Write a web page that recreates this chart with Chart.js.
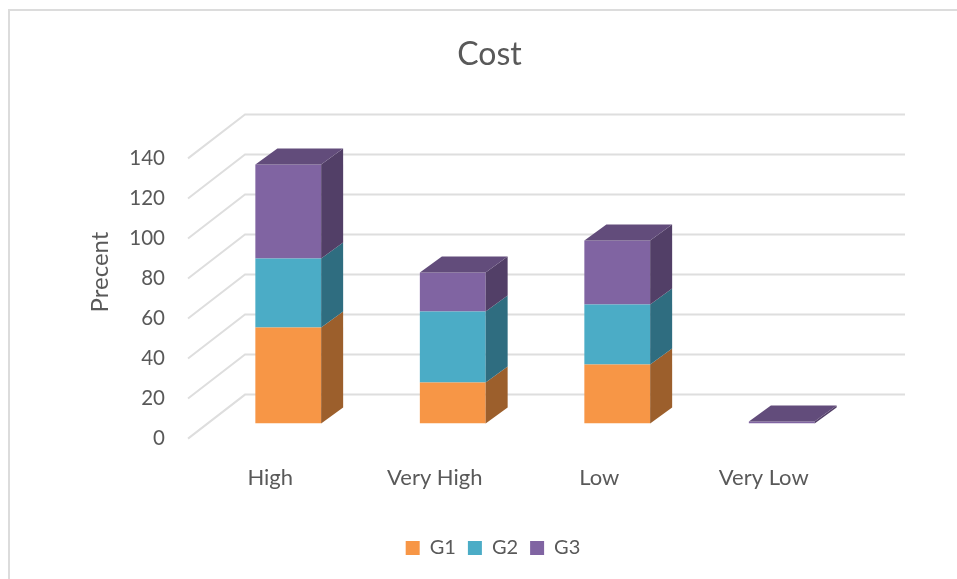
<!DOCTYPE html>
<html>
<head>
<meta charset="utf-8">
<title>Cost</title>
<script src="https://cdn.jsdelivr.net/npm/chart.js@4"></script>
<style>
  html, body { margin: 0; padding: 0; background: #fff; overflow: hidden; }
  #frame { position: absolute; left: 8px; top: 9px; width: 990px; height: 590px; border-left: 2px solid #dcdcdc; border-top: 2px solid #dcdcdc; }
  #wrap { position: absolute; left: 0; top: 0; width: 986px; height: 579px; }
</style>
</head>
<body>
<div id="frame"></div>
<div id="wrap"><canvas id="cost_chart"></canvas></div>
<script>
const categories = ['High', 'Very High', 'Low', 'Very Low'];
const g1Values = [48, 20.5, 29.5, 0];
const g2Values = [34.5, 35.5, 30, 0];
const g3Values = [47, 19.5, 32, 1];
const yTicks = [0, 20, 40, 60, 80, 100, 120, 140];
const yAxisTitle = 'Precent';

const textColor = '#595959';
const fontName = 'Lato, "Open Sans", sans-serif';

// wall depth of the fake 3D box, and how far the bars sit in from the front edge
const wallDepth = { x: 57, y: -44 };
const barShift = { x: 18, y: -15 };
const barDepth = { x: 22, y: -16 };

const sideColors = ['#9c5f2c', '#2f6d80', '#523f67'];
const topColor = '#624c7b';

function face (ctx, color, points) {
  ctx.fillStyle = color;
  ctx.beginPath();
  points.forEach(function (p, i) {
    if (i === 0) ctx.moveTo(p[0], p[1]);
    else ctx.lineTo(p[0], p[1]);
  });
  ctx.closePath();
  ctx.fill();
}

const box3d = {
  id: 'box3d',
  afterLayout: function (chart) {
    // title sits slightly left of the legend centre
    chart.titleBlock.left = -7;
  },
  beforeDatasetsDraw: function (chart) {
    const ctx = chart.ctx;
    const left = chart.chartArea.left;
    const y = chart.scales.y;
    ctx.save();
    ctx.strokeStyle = '#dedede';
    ctx.lineWidth = 2;
    yTicks.forEach(function (t) {
      const py = y.getPixelForValue(t);
      ctx.beginPath();
      ctx.moveTo(left, py);
      ctx.lineTo(left + wallDepth.x, py + wallDepth.y);
      ctx.lineTo(905, py + wallDepth.y);
      ctx.stroke();
    });
    ctx.restore();
    ctx.save();
    ctx.translate(barShift.x, barShift.y);
  },
  afterDatasetsDraw: function (chart) {
    const ctx = chart.ctx;
    chart.data.datasets.forEach(function (ds, d) {
      chart.getDatasetMeta(d).data.forEach(function (bar, i) {
        if (!ds.data[i]) return;
        const r = bar.x + bar.width / 2;
        const l = bar.x - bar.width / 2;
        face(ctx, sideColors[d], [
          [r, bar.base], [r + barDepth.x, bar.base + barDepth.y],
          [r + barDepth.x, bar.y + barDepth.y], [r, bar.y]
        ]);
        // only the highest segment of a stack shows its lid
        const above = chart.data.datasets.slice(d + 1).some(function (o) { return o.data[i]; });
        if (!above) {
          face(ctx, topColor, [
            [l, bar.y], [r, bar.y],
            [r + barDepth.x, bar.y + barDepth.y], [l + barDepth.x, bar.y + barDepth.y]
          ]);
        }
      });
    });
    ctx.restore();
  },
  afterDraw: function (chart) {
    // axis title sits above the middle of the axis, which the scale title can't do
    const ctx = chart.ctx;
    ctx.save();
    ctx.translate(100, 272);
    ctx.rotate(-Math.PI / 2);
    ctx.fillStyle = textColor;
    ctx.font = '24px ' + fontName;
    ctx.textAlign = 'center';
    ctx.textBaseline = 'middle';
    ctx.fillText(yAxisTitle, 0, 0);
    ctx.restore();
  }
};

new Chart(
  document.getElementById('cost_chart'),
  {
    type: 'bar',
    plugins: [box3d],
    data: {
      labels: categories,
      datasets: [
        { label: 'G1', data: g1Values, backgroundColor: '#f79646' },
        { label: 'G2', data: g2Values, backgroundColor: '#4bacc6' },
        { label: 'G3', data: g3Values, backgroundColor: '#8064a2' }
      ]
    },
    options: {
      responsive: true,
      maintainAspectRatio: false,
      animation: false,
      layout: { padding: { left: 0, right: 0, top: 35, bottom: 11 } },
      plugins: {
        tooltip: { enabled: false },
        title: {
          display: true,
          text: 'Cost',
          color: textColor,
          font: { family: fontName, size: 32, weight: 'normal' },
          padding: { top: 0, bottom: 85 }
        },
        legend: {
          position: 'bottom',
          labels: {
            color: textColor,
            font: { family: fontName, size: 20 },
            boxWidth: 14,
            boxHeight: 14,
            padding: 12
          }
        }
      },
      scales: {
        x: {
          stacked: true,
          grid: { display: false },
          border: { display: false },
          afterFit: function (scale) { scale.height += 17; },
          ticks: {
            color: textColor,
            font: { family: fontName, size: 22 },
            padding: 18,
            maxRotation: 0
          }
        },
        y: {
          stacked: true,
          min: 0,
          max: 140,
          afterFit: function (scale) { scale.width = 188; },
          grid: { display: false },
          border: { display: false },
          ticks: {
            color: textColor,
            font: { family: fontName, size: 20.5 },
            padding: 15,
            stepSize: 20
          }
        },
        // empty axis that keeps the plot clear of the right side
        yRight: {
          axis: 'y',
          position: 'right',
          afterFit: function (scale) { scale.width = 140; },
          grid: { display: false },
          border: { display: false },
          ticks: { display: false }
        }
      },
      datasets: { bar: { barPercentage: 0.4, categoryPercentage: 1 } }
    }
  }
);
</script>
</body>
</html>
